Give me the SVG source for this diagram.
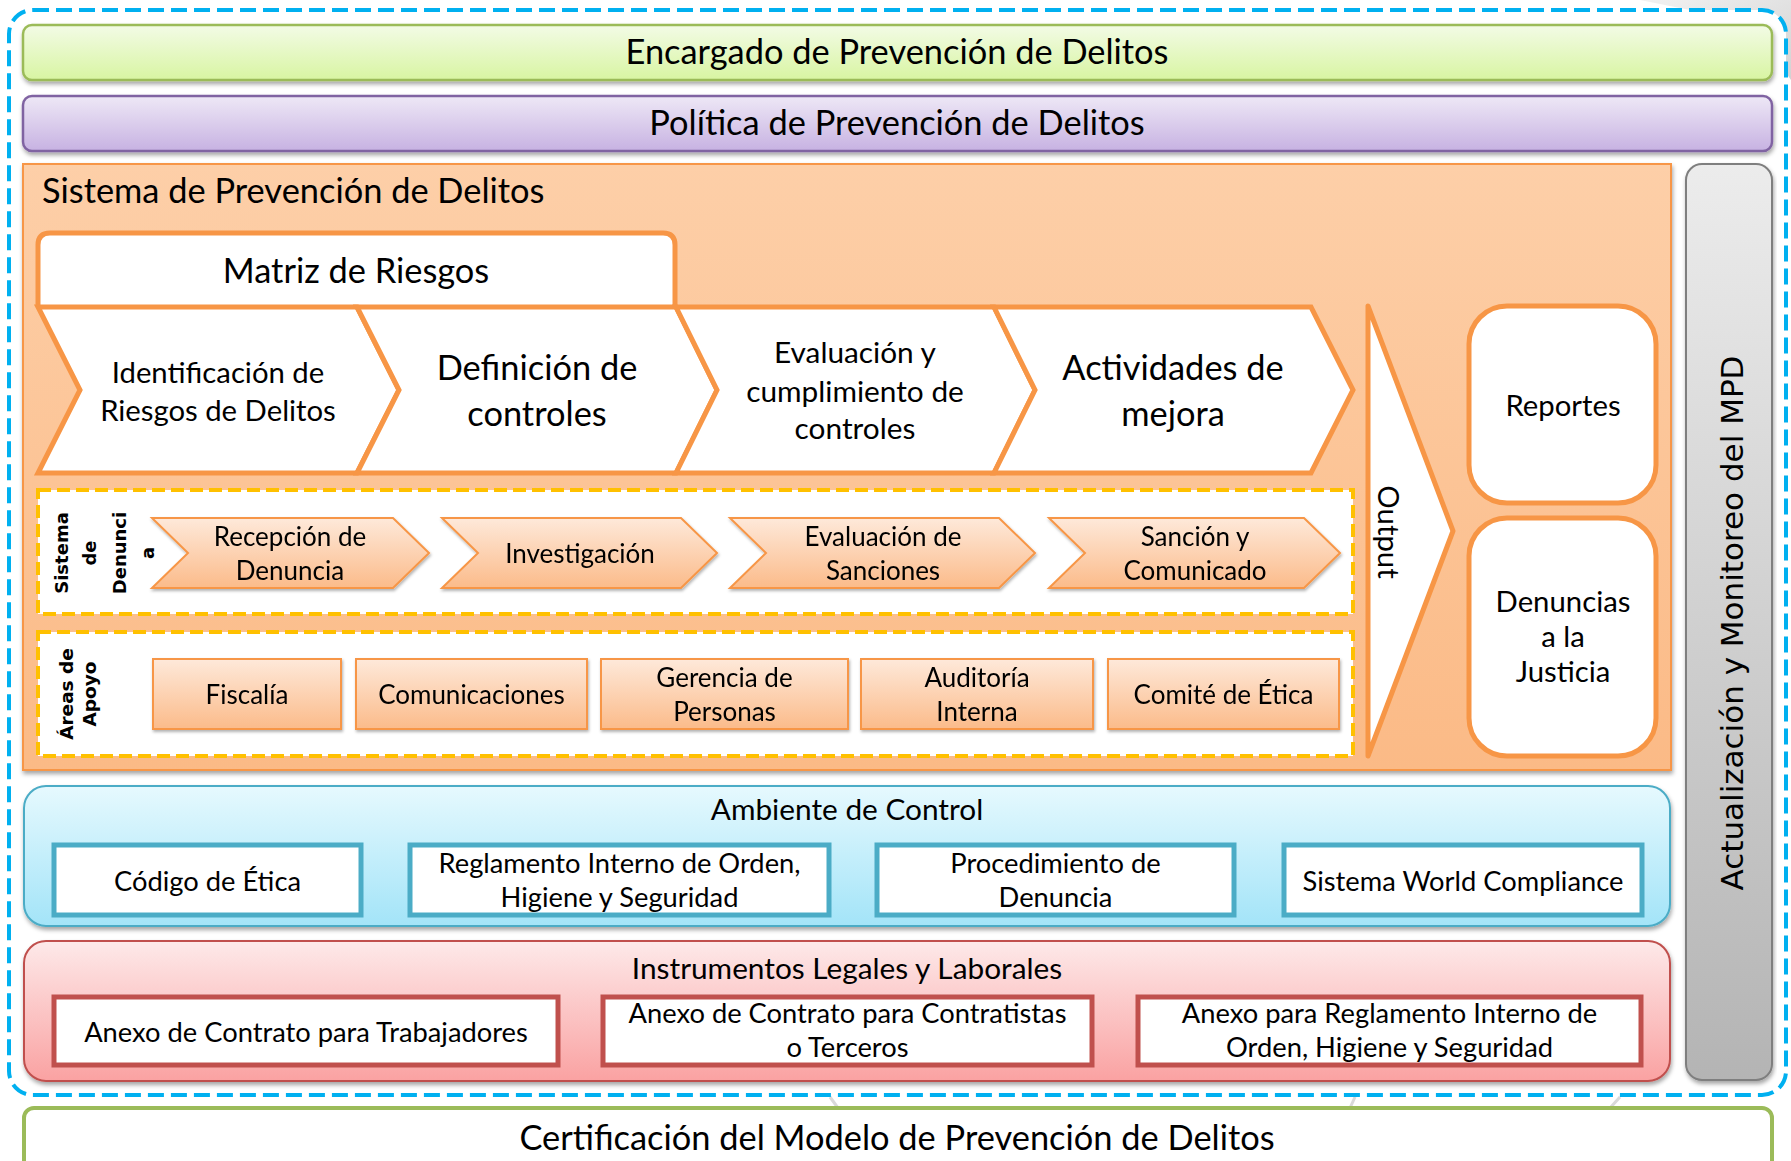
<svg xmlns="http://www.w3.org/2000/svg" width="1791" height="1161" viewBox="0 0 1791 1161">
<defs>
<linearGradient id="gGreen" x1="0" y1="0" x2="0" y2="1"><stop offset="0" stop-color="#f3fbe6"/><stop offset="1" stop-color="#d8f5a2"/></linearGradient>
<linearGradient id="gPurple" x1="0" y1="0" x2="0" y2="1"><stop offset="0" stop-color="#eee8f6"/><stop offset="1" stop-color="#c7b2e2"/></linearGradient>
<linearGradient id="gOrange" x1="0" y1="0" x2="0" y2="1"><stop offset="0" stop-color="#fdcfa8"/><stop offset="1" stop-color="#fbba86"/></linearGradient>
<linearGradient id="gGray" x1="0" y1="0" x2="0" y2="1"><stop offset="0" stop-color="#ececec"/><stop offset="1" stop-color="#b4b4b4"/></linearGradient>
<linearGradient id="gPeach" x1="0" y1="0" x2="0" y2="1"><stop offset="0" stop-color="#fee9da"/><stop offset="1" stop-color="#fbbb8a"/></linearGradient>
<linearGradient id="gCyan" x1="0" y1="0" x2="0" y2="1"><stop offset="0" stop-color="#e6f9fe"/><stop offset="1" stop-color="#a3e4f8"/></linearGradient>
<linearGradient id="gPink" x1="0" y1="0" x2="0" y2="1"><stop offset="0" stop-color="#fde9e9"/><stop offset="1" stop-color="#faa2a2"/></linearGradient>
<linearGradient id="gBg" x1="0" y1="0" x2="1" y2="1"><stop offset="0" stop-color="#f2f2f2"/><stop offset="1" stop-color="#d2d2d2"/></linearGradient>
<filter id="sh" x="-5%" y="-10%" width="110%" height="130%"><feDropShadow dx="1" dy="3" stdDeviation="2" flood-color="#000" flood-opacity="0.35"/></filter>
<filter id="shs" x="-5%" y="-10%" width="110%" height="130%"><feDropShadow dx="1" dy="2" stdDeviation="1.5" flood-color="#000" flood-opacity="0.3"/></filter>
</defs>
<style>
.t{font-family:Lato,"Liberation Sans",sans-serif;fill:#000}
.c{text-anchor:middle}
.v{font-family:"DejaVu Sans",Verdana,sans-serif;fill:#000}
.b{font-weight:bold}
.f34{font-size:34.4px}.f30{font-size:29.8px}.f29{font-size:29.3px}.f27{font-size:27.3px}.f26{font-size:26px}
.or{stroke:#f79646;stroke-width:5;fill:#fff;stroke-linejoin:miter}
.yd{fill:#fff;stroke:#ffc000;stroke-width:4;stroke-dasharray:13 6}
.sm{fill:url(#gPeach);stroke:#f79646;stroke-width:2}
.cy{fill:#fff;stroke:#4bacc6;stroke-width:5}
.rd{fill:#fff;stroke:#c0504d;stroke-width:5}
</style>
<rect width="1791" height="1161" fill="#fff"/>
<g id="background">
<polygon points="1640,0 1791,0 1791,80 1750,22" fill="url(#gBg)"/>
<path d="M830,1097 L838,1108 M1355,1097 L1350,1108 M1620,1097 L1610,1108" stroke="#d9d9d9" stroke-width="3" fill="none"/>
</g>
<g id="frame">
<rect x="9" y="10" width="1777" height="1085" rx="24" fill="#fff" stroke="#00b0f0" stroke-width="4" stroke-dasharray="16 7"/>
</g>
<g id="encargado">
<rect x="23" y="25" width="1749" height="55" rx="9" fill="url(#gGreen)" stroke="#9bbb59" stroke-width="2.5" filter="url(#sh)"/>
<text class="t c f34" x="897" y="64">Encargado de Prevención de Delitos</text>
</g>
<g id="politica">
<rect x="23" y="96" width="1749" height="55" rx="9" fill="url(#gPurple)" stroke="#8064a2" stroke-width="2.5" filter="url(#sh)"/>
<text class="t c f34" x="897" y="135">Política de Prevención de Delitos</text>
</g>
<g id="sistema">
<rect x="23" y="164" width="1648" height="606" fill="url(#gOrange)" stroke="#f79646" stroke-width="2" filter="url(#sh)"/>
<text class="t f34" x="42" y="203">Sistema de Prevención de Delitos</text>
</g>
<g id="matriz">
<path class="or" d="M38,306 V245 Q38,233 50,233 H663 Q675,233 675,245 V306"/>
<text class="t c f34" x="356" y="283">Matriz de Riesgos</text>
</g>
<g id="paso-identificacion">
<polygon class="or" points="38,307 357,307 399,390 357,473 38,473 80,390"/>
<text class="t c f29" x="218" y="383">Identificación de</text>
<text class="t c f29" x="218" y="421">Riesgos de Delitos</text>
</g>
<g id="paso-definicion">
<polygon class="or" points="357,307 676,307 717,390 676,473 357,473 399,390"/>
<text class="t c f34" x="537" y="380">Definición de</text>
<text class="t c f34" x="537" y="426">controles</text>
</g>
<g id="paso-evaluacion">
<polygon class="or" points="676,307 994,307 1035,390 994,473 676,473 717,390"/>
<text class="t c f30" x="855" y="363">Evaluación y</text>
<text class="t c f30" x="855" y="402">cumplimiento de</text>
<text class="t c f30" x="855" y="439">controles</text>
</g>
<g id="paso-mejora">
<polygon class="or" points="994,307 1311,307 1353,390 1311,473 994,473 1035,390"/>
<text class="t c f34" x="1173" y="380">Actividades de</text>
<text class="t c f34" x="1173" y="426">mejora</text>
</g>
<g id="sistema-denuncia">
<rect class="yd" x="38" y="490" width="1315" height="124"/>
<g transform="translate(0,553)">
<text class="v b c" font-size="18" transform="translate(68,0) rotate(-90)">Sistema</text>
<text class="v b c" font-size="18" transform="translate(96,0) rotate(-90)">de</text>
<text class="v b c" font-size="18" transform="translate(126,0) rotate(-90)">Denunci</text>
<text class="v b c" font-size="18" transform="translate(154,0) rotate(-90)">a</text>
</g>
</g>
<g id="recepcion" filter="url(#shs)">
<polygon class="sm" points="152,518 393,518 429,553 393,588 152,588 188,553"/>
<text class="t c f26" x="290" y="546">Recepción de</text>
<text class="t c f26" x="290" y="580">Denuncia</text>
</g>
<g id="investigacion" filter="url(#shs)">
<polygon class="sm" points="442,518 681,518 717,553 681,588 442,588 478,553"/>
<text class="t c f26" x="580" y="563">Investigación</text>
</g>
<g id="evaluacion-sanciones" filter="url(#shs)">
<polygon class="sm" points="730,518 999,518 1035,553 999,588 730,588 766,553"/>
<text class="t c f26" x="883" y="546">Evaluación de</text>
<text class="t c f26" x="883" y="580">Sanciones</text>
</g>
<g id="sancion" filter="url(#shs)">
<polygon class="sm" points="1049,518 1304,518 1340,553 1304,588 1049,588 1085,553"/>
<text class="t c f26" x="1195" y="546">Sanción y</text>
<text class="t c f26" x="1195" y="580">Comunicado</text>
</g>
<g id="areas-apoyo">
<rect class="yd" x="38" y="632" width="1315" height="124"/>
<text class="v b c" font-size="18.5" transform="translate(73,694) rotate(-90)">Áreas de</text>
<text class="v b c" font-size="18.5" transform="translate(96,694) rotate(-90)">Apoyo</text>
</g>
<g id="fiscalia" filter="url(#shs)">
<rect class="sm" x="153" y="659" width="188" height="70"/>
<text class="t c f26" x="247" y="704">Fiscalía</text>
</g>
<g id="comunicaciones" filter="url(#shs)">
<rect class="sm" x="356" y="659" width="231" height="70"/>
<text class="t c f26" x="471.5" y="704">Comunicaciones</text>
</g>
<g id="gerencia" filter="url(#shs)">
<rect class="sm" x="601" y="659" width="247" height="70"/>
<text class="t c f26" x="724.5" y="687">Gerencia de</text>
<text class="t c f26" x="724.5" y="721">Personas</text>
</g>
<g id="auditoria" filter="url(#shs)">
<rect class="sm" x="861" y="659" width="232" height="70"/>
<text class="t c f26" x="977" y="687">Auditoría</text>
<text class="t c f26" x="977" y="721">Interna</text>
</g>
<g id="comite" filter="url(#shs)">
<rect class="sm" x="1108" y="659" width="231" height="70"/>
<text class="t c f26" x="1223.5" y="704">Comité de Ética</text>
</g>
<g id="output">
<polygon points="1368,306 1453,531 1368,756" fill="#fff" stroke="#f79646" stroke-width="5" stroke-linejoin="round"/>
<text class="t c f29" transform="translate(1378,532) rotate(90)">Output</text>
</g>
<g id="reportes">
<rect x="1469" y="306" width="187" height="197" rx="38" fill="#fff" stroke="#f79646" stroke-width="5"/>
<text class="t c f29" x="1563" y="416">Reportes</text>
</g>
<g id="denuncias-justicia">
<rect x="1469" y="518" width="187" height="238" rx="38" fill="#fff" stroke="#f79646" stroke-width="5"/>
<text class="t c f29" x="1563" y="612">Denuncias</text>
<text class="t c f29" x="1563" y="647">a la</text>
<text class="t c f29" x="1563" y="682">Justicia</text>
</g>
<g id="actualizacion">
<rect x="1686" y="164" width="86" height="916" rx="16" fill="url(#gGray)" stroke="#7f7f7f" stroke-width="2" filter="url(#sh)"/>
<text class="v c" font-size="31" transform="translate(1743,623) rotate(-90)">Actualización y Monitoreo del MPD</text>
</g>
<g id="ambiente">
<rect x="24" y="786" width="1646" height="140" rx="22" fill="url(#gCyan)" stroke="#4bacc6" stroke-width="2" filter="url(#sh)"/>
<text class="t c f30" x="847" y="820">Ambiente de Control</text>
</g>
<g id="codigo-etica">
<rect class="cy" x="54" y="845" width="307" height="70"/>
<text class="t c f27" x="207.5" y="891">Código de Ética</text>
</g>
<g id="reglamento">
<rect class="cy" x="410" y="845" width="419" height="70"/>
<text class="t c f27" x="619.5" y="873">Reglamento Interno de Orden,</text>
<text class="t c f27" x="619.5" y="907">Higiene y Seguridad</text>
</g>
<g id="procedimiento">
<rect class="cy" x="877" y="845" width="357" height="70"/>
<text class="t c f27" x="1055.5" y="873">Procedimiento de</text>
<text class="t c f27" x="1055.5" y="907">Denuncia</text>
</g>
<g id="world-compliance">
<rect class="cy" x="1284" y="845" width="358" height="70"/>
<text class="t c f27" x="1463" y="891">Sistema World Compliance</text>
</g>
<g id="instrumentos">
<rect x="24" y="941" width="1646" height="140" rx="22" fill="url(#gPink)" stroke="#c0504d" stroke-width="2" filter="url(#sh)"/>
<text class="t c f30" x="847" y="979">Instrumentos Legales y Laborales</text>
</g>
<g id="anexo-trabajadores">
<rect class="rd" x="54" y="997" width="504" height="68"/>
<text class="t c f27" x="306" y="1042">Anexo de Contrato para Trabajadores</text>
</g>
<g id="anexo-contratistas">
<rect class="rd" x="603" y="997" width="489" height="68"/>
<text class="t c f27" x="847.5" y="1023">Anexo de Contrato para Contratistas</text>
<text class="t c f27" x="847.5" y="1057">o Terceros</text>
</g>
<g id="anexo-reglamento">
<rect class="rd" x="1138" y="997" width="503" height="68"/>
<text class="t c f27" x="1389.5" y="1023">Anexo para Reglamento Interno de</text>
<text class="t c f27" x="1389.5" y="1057">Orden, Higiene y Seguridad</text>
</g>
<g id="certificacion">
<rect x="24" y="1108" width="1748" height="80" rx="10" fill="#fff" stroke="#9bbb59" stroke-width="4"/>
<text class="t c f34" x="897" y="1150">Certificación del Modelo de Prevención de Delitos</text>
</g>
<g id="connectors"/>
</svg>
